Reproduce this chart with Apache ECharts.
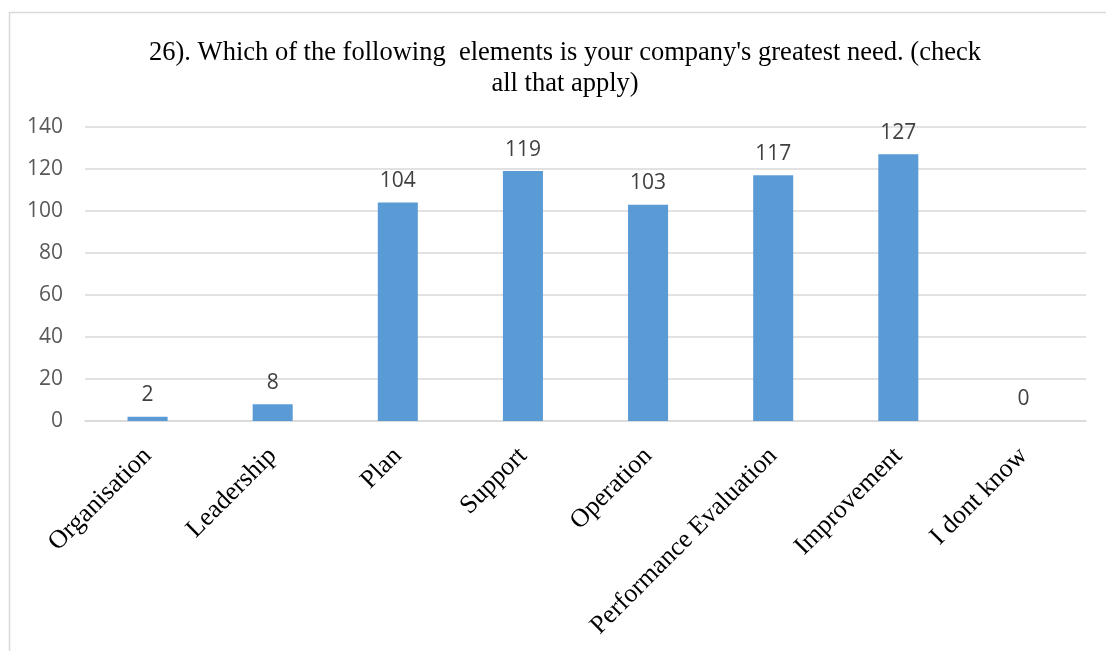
<!DOCTYPE html>
<html>
<head>
<meta charset="utf-8">
<script src="https://cdn.jsdelivr.net/npm/echarts@6/dist/echarts.min.js"></script>
<style>
  html, body { margin: 0; padding: 0; background: #fff; }
  #chart { width: 1106px; height: 651px; }
</style>
</head>
<body>
<div id="chart"></div>
<script>
const categories = ['Organisation', 'Leadership', 'Plan', 'Support', 'Operation',
  'Performance Evaluation', 'Improvement', 'I dont know'];
const counts = [2, 8, 104, 119, 103, 117, 127, 0];
const titleText = "26). Which of the following  elements is your company's greatest need. (check\nall that apply)";

const chart = echarts.init(document.getElementById('chart'));

chart.setOption({
  animation: false,
  graphic: [{
    type: 'rect',
    shape: { x: 9.5, y: 12.5, width: 1200, height: 800 },
    style: { fill: 'none', stroke: '#d9d9d9', lineWidth: 1.5 },
    silent: true
  }],
  title: {
    text: titleText,
    left: 560,
    top: 33,
    textAlign: 'center',
    textStyle: {
      fontFamily: 'Liberation Serif, Times New Roman, serif',
      fontSize: 26.5,
      fontWeight: 'normal',
      color: '#000',
      lineHeight: 31,
      align: 'center'
    }
  },
  grid: { left: 85, right: 20, top: 127, bottom: 230, containLabel: false },
  xAxis: {
    type: 'category',
    data: categories,
    axisTick: { show: false },
    axisLine: { lineStyle: { color: '#d9d9d9', width: 1.5 } },
    axisLabel: {
      rotate: 45,
      interval: 0,
      margin: 31,
      fontFamily: 'Liberation Serif, Times New Roman, serif',
      fontSize: 26,
      color: '#000'
    }
  },
  yAxis: {
    type: 'value',
    min: 0,
    max: 140,
    interval: 20,
    axisLine: { show: false },
    axisTick: { show: false },
    splitLine: { lineStyle: { color: '#d9d9d9', width: 1.5 } },
    axisLabel: {
      margin: 22,
      fontFamily: 'Open Sans, Liberation Sans, sans-serif',
      fontSize: 21,
      color: '#595959'
    }
  },
  series: [{
    type: 'bar',
    data: counts,
    barWidth: '32%',
    itemStyle: { color: '#5b9bd5' },
    label: {
      show: true,
      position: 'top',
      distance: 11,
      fontFamily: 'Open Sans, Liberation Sans, sans-serif',
      fontSize: 21,
      color: '#404040'
    }
  }]
});
</script>
</body>
</html>
